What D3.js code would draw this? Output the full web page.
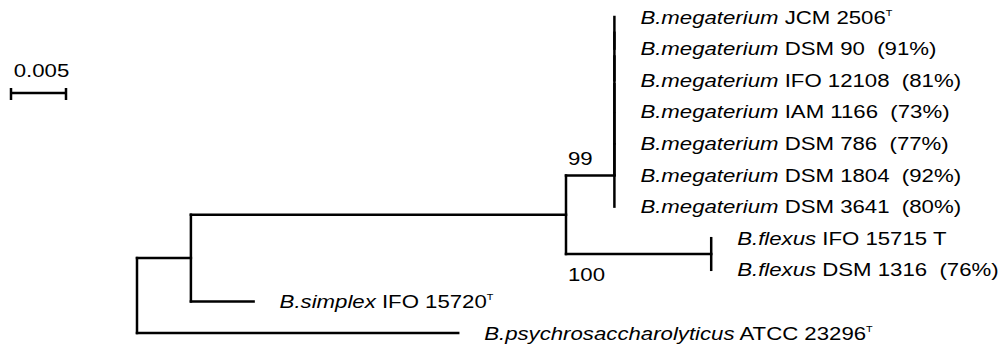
<!DOCTYPE html>
<html>
<head>
<meta charset="utf-8">
<script src="https://cdn.jsdelivr.net/npm/d3@7"></script>
<style>
  body { margin: 0; background: #fff; }
  svg { display: block; }
  text { font-family: "Liberation Sans", Arial, sans-serif; fill: #000; }
</style>
</head>
<body>
<div id="chart"></div>
<script>
// tree as parent table (d3.stratify keeps the child order)
var nodeIds   = ["root", "A", "B", "M6", "M5", "M4", "M3", "M2", "M1",
                 "L1", "L2", "L3", "L4", "L5", "L6", "L7",
                 "F", "L8", "L9", "L10", "L11"];
var parentIds = ["", "root", "A", "B", "M6", "M5", "M4", "M3", "M2",
                 "M1", "M1", "M2", "M3", "M4", "M5", "M6",
                 "B", "F", "F", "A", "root"];
var branchLengths = [0, 0.0049, 0.0341, 0.0044, 0, 0, 0, 0, 0,
                     0, 0, 0, 0, 0, 0, 0,
                     0.0132, 0, 0, 0.0057, 0.0292];

// leaf labels, in leaf order
var leafIds     = ["L1", "L2", "L3", "L4", "L5", "L6", "L7", "L8", "L9", "L10", "L11"];
var leafSpecies = ["B.megaterium", "B.megaterium", "B.megaterium", "B.megaterium", "B.megaterium",
                   "B.megaterium", "B.megaterium", "B.flexus", "B.flexus", "B.simplex",
                   "B.psychrosaccharolyticus"];
var leafStrains = ["JCM 2506", "DSM 90", "IFO 12108", "IAM 1166", "DSM 786", "DSM 1804",
                   "DSM 3641", "IFO 15715 T", "DSM 1316", "IFO 15720", "ATCC 23296"];
var leafPercent = ["", "(91%)", "(81%)", "(73%)", "(77%)", "(92%)", "(80%)", "", "(76%)", "", ""];
var leafTypeStrain = [true, false, false, false, false, false, false, false, false, true, true];

// bootstrap values on internal nodes
var bootNodes  = ["M6", "F"];
var bootValues = ["99", "100"];

var scaleBarValue = 0.005;

var width = 1000, height = 344;
var fontSize = 18.5, stretch = 1.2;

var svg = d3.select("#chart").append("svg")
  .attr("width", width)
  .attr("height", height);

var table = nodeIds.map(function (id, i) {
  return { id: id, parent: parentIds[i], len: branchLengths[i] };
});
var root = d3.stratify()
  .id(d => d.id)
  .parentId(d => d.parent || null)(table);

// cumulative distance from root
root.eachBefore(function (n) {
  n.dist = n.parent ? n.parent.dist + n.data.len : 0;
});

var xScale = d3.scaleLinear()
  .domain([0, 0.035])
  .range([137, 137 + 385]);

var leaves = root.leaves();
var yScale = d3.scalePoint()
  .domain(leaves.map(d => d.id))
  .range([17, 333]);

// leaves on rows, internal nodes at mean of children
root.eachAfter(function (n) {
  n.y = n.children ? d3.mean(n.children, c => c.y) : yScale(n.id);
});

var g = svg.append("g")
  .attr("fill", "none")
  .attr("stroke", "#000")
  .attr("stroke-width", 2.5)
  .attr("stroke-linecap", "square");

// horizontal branches
g.selectAll(".hbranch")
  .data(root.descendants().filter(d => d.parent && d.data.len > 0))
  .join("line")
  .attr("class", "hbranch")
  .attr("x1", d => xScale(d.parent.dist))
  .attr("x2", d => xScale(d.dist))
  .attr("y1", d => d.y)
  .attr("y2", d => d.y);

// vertical connectors
g.selectAll(".vbranch")
  .data(root.descendants().filter(d => d.children))
  .join("line")
  .attr("class", "vbranch")
  .attr("x1", d => xScale(d.dist))
  .attr("x2", d => xScale(d.dist))
  .attr("y1", d => d3.min(d.children, c => c.y))
  .attr("y2", d => d3.max(d.children, c => c.y));

// leaf labels
var labels = svg.selectAll(".leaf")
  .data(leaves)
  .join("text")
  .attr("class", "leaf")
  .attr("font-size", fontSize)
  .attr("transform", d => "translate(" + (xScale(d.dist) + 26) + "," + (d.y + 6.5) + ") scale(" + stretch + ",1)");

labels.each(function (d) {
  var i = leafIds.indexOf(d.id);
  var t = d3.select(this);
  t.append("tspan").attr("font-style", "italic").text(leafSpecies[i]);
  t.append("tspan").text(" " + leafStrains[i]);
  if (leafTypeStrain[i]) {
    t.append("tspan").attr("font-size", 9).attr("dy", -7.5).text("T");
  }
  if (leafPercent[i]) {
    t.append("tspan").attr("xml:space", "preserve").text("  " + leafPercent[i]);
  }
});

// bootstrap values
bootNodes.forEach(function (id, i) {
  var n = root.find(d => d.id === id);
  var above = n.y < n.parent.y;
  svg.append("text")
    .attr("font-size", fontSize)
    .attr("transform", "translate(" + (xScale(n.parent.dist) + 2) + "," + (above ? n.y - 10 : n.y + 27) + ") scale(" + stretch + ",1)")
    .text(bootValues[i]);
});

// scale bar
var bx0 = 11, bx1 = bx0 + xScale(scaleBarValue) - xScale(0), by = 93;
var sb = svg.append("g").attr("stroke", "#000").attr("stroke-width", 2.5);
sb.append("line").attr("x1", bx0).attr("x2", bx1).attr("y1", by).attr("y2", by);
sb.append("line").attr("x1", bx0).attr("x2", bx0).attr("y1", by - 5).attr("y2", by + 7);
sb.append("line").attr("x1", bx1).attr("x2", bx1).attr("y1", by - 5).attr("y2", by + 7);
svg.append("text")
  .attr("font-size", fontSize)
  .attr("text-anchor", "middle")
  .attr("transform", "translate(" + ((bx0 + bx1) / 2 + 3) + ",77) scale(" + stretch + ",1)")
  .text(scaleBarValue);
</script>
</body>
</html>
